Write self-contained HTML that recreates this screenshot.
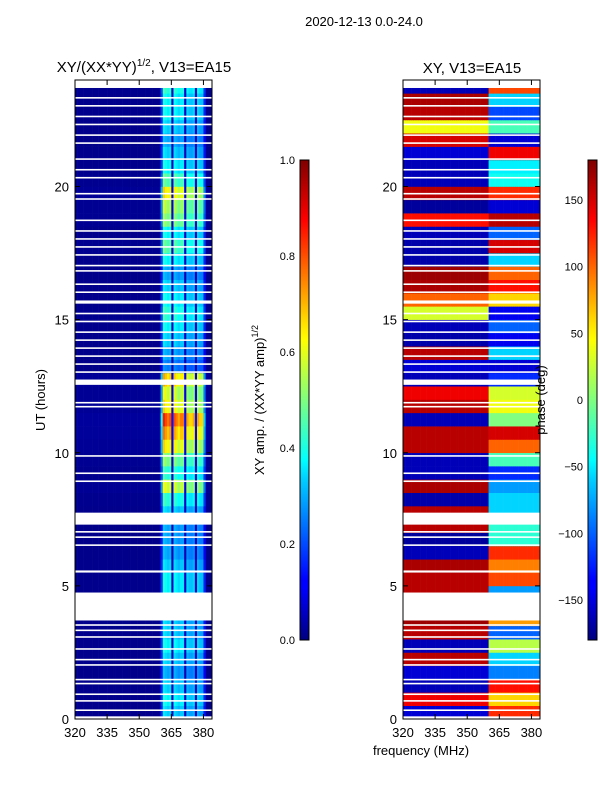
<!DOCTYPE html>
<html><head><meta charset="utf-8">
<style>
html,body{margin:0;padding:0;background:#fff;}
svg{display:block;font-family:"Liberation Sans",sans-serif;}
</style></head>
<body>
<svg id="fig" width="600" height="800" viewBox="0 0 600 800" xmlns="http://www.w3.org/2000/svg">
<defs>
<linearGradient id="jetV" x1="0" y1="1" x2="0" y2="0">
<stop offset="0" stop-color="#00007f"/><stop offset="0.11" stop-color="#0000ff"/>
<stop offset="0.125" stop-color="#0000ff"/><stop offset="0.34" stop-color="#00d4ff"/>
<stop offset="0.375" stop-color="#00ffff"/><stop offset="0.5" stop-color="#7fff7f"/>
<stop offset="0.625" stop-color="#ffff00"/><stop offset="0.66" stop-color="#ffe000"/>
<stop offset="0.875" stop-color="#ff0000"/><stop offset="1" stop-color="#7f0000"/>
</linearGradient>
<clipPath id="clipL"><rect x="75" y="80" width="137" height="639"/></clipPath>
<clipPath id="clipR"><rect x="403" y="80" width="137" height="639"/></clipPath>
</defs>
<text x="364" y="26" font-size="13" text-anchor="middle">2020-12-13 0.0-24.0</text>
<text x="144" y="72" font-size="15" text-anchor="middle">XY/(XX*YY)<tspan dy="-6" font-size="10">1/2</tspan><tspan dy="6">, V13=EA15</tspan></text>
<text x="472" y="73" font-size="15" text-anchor="middle">XY, V13=EA15</text>
<g id="heatL" clip-path="url(#clipL)"></g>
<g id="heatR" clip-path="url(#clipR)"></g>
<rect x="75" y="80" width="137" height="639" fill="none" stroke="#000" stroke-width="1"/>
<rect x="403" y="80" width="137" height="639" fill="none" stroke="#000" stroke-width="1"/>
<g id="axes"></g>
<text transform="translate(45,400) rotate(-90)" font-size="13" text-anchor="middle">UT (hours)</text>
<text x="421" y="755" font-size="13" text-anchor="middle">frequency (MHz)</text>
<rect x="300" y="160" width="9" height="480" fill="url(#jetV)" stroke="#000" stroke-width="1"/>
<rect x="588" y="160" width="9" height="480" fill="url(#jetV)" stroke="#000" stroke-width="1"/>
<text transform="translate(264,400) rotate(-90)" font-size="13" text-anchor="middle">XY amp. / (XX*YY amp)<tspan dy="-6" font-size="9">1/2</tspan></text>
<text transform="translate(545,400) rotate(-90)" font-size="13" text-anchor="middle">phase (deg)</text>
</svg>
<script>
const NS="http://www.w3.org/2000/svg";
// data arrays
const freqStart=[];for(let f=320;f<384;f++)freqStart.push(f);
const colAmp=[0.03,0.03,0.03,0.03,0.03,0.03,0.03,0.03,0.03,0.03,0.03,0.03,0.03,0.03,0.03,0.03,0.03,0.03,0.03,0.03,
0.03,0.03,0.03,0.03,0.03,0.03,0.03,0.03,0.03,0.03,0.03,0.03,0.03,0.03,0.03,0.03,0.03,0.03,0.03,0.03,
0.4,0.9,0.85,0.8,0.85,0.15,0.85,0.8,0.75,0.8,0.8,0.15,0.75,0.7,0.7,0.75,0.15,0.75,0.7,0.7,0.35,0.03,0.03,0.03];
const rowStart=[];for(let i=0;i<48;i++)rowStart.push(i*0.5);
const rowAmp=[0.4,0.45,0.4,0.35,0.4,0.45,0.4,0.4,0.45,0.45,0.45,0.4,0.35,0.35,0.35,0.4,0.5,0.7,0.5,0.6,
0.75,0.85,0.95,0.75,0.7,0.8,0.3,0.35,0.4,0.45,0.5,0.45,0.4,0.35,0.45,0.55,0.45,0.6,0.65,0.75,
0.55,0.45,0.4,0.35,0.4,0.45,0.45,0.5];
const phaseLow=[-150,140,-160,-150,160,-160,160,170,170,160,160,165,-160,-170,160,160,-165,165,-160,-160,
160,160,-160,160,140,-160,-150,160,-165,-160,30,100,165,170,-165,-165,-160,130,-170,160,
-160,-160,-150,150,40,160,165,-160];
const phaseHigh=[120,60,130,-90,-60,20,-100,80,80,-80,110,90,120,-30,-30,-60,-60,-80,-120,-20,
100,150,0,40,30,-120,-150,-60,-140,-100,-140,60,130,100,-60,150,-100,160,-150,120,
-40,-50,140,-150,-20,-110,-60,110];
const flagStart=[0,3.7,7.3,12.55,15.6,23.7,0.3,0.65,0.9,1.3,1.45,2.0,2.2,2.6,3.05,3.3,3.5,5.5,6.5,6.8,7.0,8.9,9.2,9.85,11.7,11.85,13.0,13.3,13.6,13.9,14.2,14.5,14.9,15.2,16.0,16.3,16.8,17.0,17.4,17.7,18.0,18.3,18.7,19.5,19.7,20.3,20.6,21.0,21.6,21.9,22.3,22.6,23.0,23.3];
const flagEnd=[0.1,4.75,7.75,12.75,15.72,24,0.36,0.71,0.96,1.36,1.51,2.06,2.26,2.66,3.11,3.36,3.56,5.58,6.56,6.86,7.06,8.96,9.26,9.91,11.76,11.91,13.06,13.36,13.66,13.96,14.26,14.56,14.96,15.26,16.06,16.36,16.86,17.06,17.46,17.76,18.06,18.36,18.76,19.56,19.76,20.36,20.66,21.06,21.66,21.96,22.36,22.66,23.06,23.36];
const xTicks=[320,335,350,365,380];
const yTicks=[0,5,10,15,20];
const ampTicks=[0.0,0.2,0.4,0.6,0.8,1.0];
const phaseTicks=[-150,-100,-50,0,50,100,150];

function jet(v){v=Math.max(0,Math.min(1,v));
 const r=Math.max(0,Math.min(1,1.5-Math.abs(4*v-3)));
 const g=Math.max(0,Math.min(1,1.5-Math.abs(4*v-2)));
 const b=Math.max(0,Math.min(1,1.5-Math.abs(4*v-1)));
 return `rgb(${Math.round(r*255)},${Math.round(g*255)},${Math.round(b*255)})`;}
const xL=f=>75+(f-320)*137/64, xR=f=>403+(f-320)*137/64;
const yS=h=>719-h*639/24;
function mk(tag,attrs,parent){const e=document.createElementNS(NS,tag);for(const k in attrs)e.setAttribute(k,attrs[k]);parent.appendChild(e);return e;}
const gL=document.getElementById('heatL'),gR=document.getElementById('heatR'),ax=document.getElementById('axes');
for(let r=0;r<rowStart.length;r++){
 const y0=yS(rowStart[r]+0.5),y1=yS(rowStart[r]);
 for(let c=0;c<freqStart.length;c++){
  const f=freqStart[c];
  const a=mk('rect',{x:xL(f),y:y0,width:xL(f+1)-xL(f)+0.3,height:y1-y0+0.3,fill:jet(rowAmp[r]*colAmp[c])},gL);
  
  
  const ph=f<360?phaseLow[r]:phaseHigh[r];
  const p=mk('rect',{x:xR(f),y:y0,width:xR(f+1)-xR(f)+0.3,height:y1-y0+0.3,fill:jet((ph+180)/360)},gR);
  
  
 }
}
for(let i=0;i<flagStart.length;i++){
 const y0=yS(flagEnd[i]),h=yS(flagStart[i])-y0;
 for(const [g,x0] of [[gL,75],[gR,403]]){
  const e=mk('rect',{x:x0,y:y0,width:137,height:h,fill:'#fff'},g);
  
  
 }
}
for(const x0 of [xL,xR]){
 for(const t of xTicks){const x=x0(t);
  mk('line',{x1:x,x2:x,y1:719,y2:714,stroke:'#000'},ax);
  mk('line',{x1:x,x2:x,y1:80,y2:85,stroke:'#000'},ax);
  const e=mk('text',{x:x,y:737,'font-size':13,'text-anchor':'middle'},ax);e.textContent=t;
  
  }
}
for(const x0 of [75,403]){
 for(const t of yTicks){const y=yS(t);
  mk('line',{x1:x0,x2:x0+5,y1:y,y2:y,stroke:'#000'},ax);
  mk('line',{x1:x0+137,x2:x0+132,y1:y,y2:y,stroke:'#000'},ax);
  const e=mk('text',{x:x0-6,y:y+5,'font-size':13,'text-anchor':'end'},ax);e.textContent=t;
  
  }
}
for(const t of ampTicks){const y=640-t*480;
 mk('line',{x1:300,x2:304,y1:y,y2:y,stroke:'#000'},ax);
 const e=mk('text',{x:295,y:y+4,'font-size':11,'text-anchor':'end'},ax);e.textContent=t.toFixed(1);
 
 }
for(const t of phaseTicks){const y=640-(t+180)/360*480;
 mk('line',{x1:588,x2:592,y1:y,y2:y,stroke:'#000'},ax);
 const e=mk('text',{x:583,y:y+4,'font-size':11,'text-anchor':'end'},ax);e.textContent=t<0?'\u2212'+(-t):t;
 
 }
</script>
</body></html>
